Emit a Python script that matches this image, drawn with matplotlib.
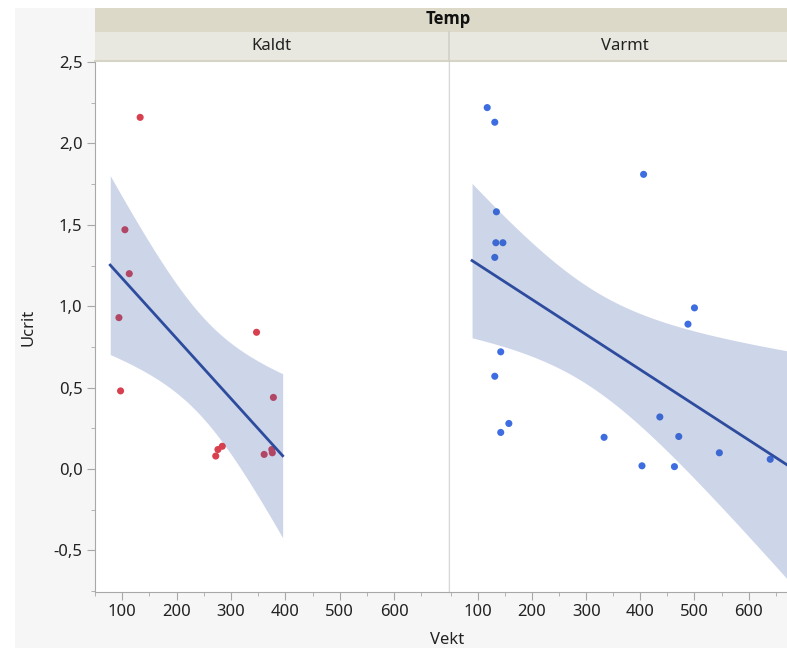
import numpy as np
import matplotlib
matplotlib.use("Agg")
import matplotlib.pyplot as plt
from matplotlib.patches import Rectangle
from matplotlib.ticker import FuncFormatter, MultipleLocator

plt.rcParams['font.family'] = ['Noto Sans', 'DejaVu Sans']

# data
kaldt_vekt = [133, 105, 113, 94, 97, 347, 378, 284, 276, 272, 361, 375, 376]
kaldt_ucrit = [2.16, 1.47, 1.20, 0.93, 0.48, 0.84, 0.44, 0.14, 0.12, 0.08, 0.09, 0.12, 0.10]
varmt_vekt = [117, 131, 406, 134, 133, 146, 131, 500, 488, 142, 131, 157, 142, 333,
              436, 471, 403, 463, 546, 640]
varmt_ucrit = [2.22, 2.13, 1.81, 1.58, 1.39, 1.39, 1.30, 0.99, 0.89, 0.72, 0.57, 0.28,
               0.225, 0.195, 0.32, 0.20, 0.02, 0.015, 0.10, 0.06]
fit_range = {"Kaldt": (78, 395), "Varmt": (89, 690)}
panels = ["Kaldt", "Varmt"]
y_ticks = [-0.5, 0.0, 0.5, 1.0, 1.5, 2.0, 2.5]
x_ticks = [100, 200, 300, 400, 500, 600]

W, H = 787, 648
FS = 12
fig = plt.figure(figsize=(W / 100, H / 100), dpi=100)
fig.patch.set_facecolor("white")


def fx(px):
    return px / W


def fy(py):
    return 1 - py / H


# gray frame behind everything
fig.patches.append(Rectangle((fx(15), 0), 1 - fx(15), fy(8), transform=fig.transFigure,
                             facecolor="#f6f6f6", edgecolor="none", zorder=-5))


def t975(df):
    z = 1.959964
    return z + (z**3 + z) / (4 * df) + (5 * z**5 + 16 * z**3 + 3 * z) / (96 * df**2)


def fit_band(x, y, lo, hi):
    x = np.asarray(x, float)
    y = np.asarray(y, float)
    n = len(x)
    b, a = np.polyfit(x, y, 1)
    res = y - (a + b * x)
    s = np.sqrt(np.sum(res**2) / (n - 2))
    sxx = np.sum((x - x.mean())**2)
    xs = np.linspace(lo, hi, 200)
    yh = a + b * xs
    se = s * np.sqrt(1 / n + (xs - x.mean())**2 / sxx)
    t = t975(n - 2)
    return xs, yh, yh - t * se, yh + t * se


ax1 = fig.add_axes([fx(95), fy(592), fx(448) - fx(95), fy(62) - fy(592)])
ax2 = fig.add_axes([fx(449), fy(592), fx(787) - fx(449), fy(62) - fy(592)], sharey=ax1)

data = {"Kaldt": (kaldt_vekt, kaldt_ucrit, "#d9404f"),
        "Varmt": (varmt_vekt, varmt_ucrit, "#3d6de0")}
xlims = {"Kaldt": (50, 699), "Varmt": (46.4, 671)}

for ax, name in zip([ax1, ax2], panels):
    vx, vy, col = data[name]
    ax.scatter(vx, vy, s=26, color=col, edgecolors="none", zorder=2)
    xs, yh, lo, hi = fit_band(vx, vy, *fit_range[name])
    ax.fill_between(xs, lo, hi, color="#3a5aa8", alpha=0.25, linewidth=0, zorder=3)
    ax.plot(xs, yh, color="#2e4c9e", lw=2, zorder=4)
    ax.set_xlim(*xlims[name])
    ax.set_ylim(-0.755, 2.5)
    ax.set_xticks(x_ticks)
    ax.xaxis.set_minor_locator(MultipleLocator(50))
    ax.set_facecolor("white")
    for sp in ["top", "right"]:
        ax.spines[sp].set_visible(False)
    ax.spines["bottom"].set_color("#a8a8a8")
    ax.tick_params(axis="x", which="major", length=6, color="#a8a8a8", labelsize=FS,
                   labelcolor="#222222", pad=3)
    ax.tick_params(axis="x", which="minor", length=3, color="#a8a8a8")

ax1.set_yticks(y_ticks)
ax1.yaxis.set_minor_locator(MultipleLocator(0.25))
ax1.yaxis.set_major_formatter(FuncFormatter(lambda v, p: f"{v:.1f}".replace(".", ",")))
ax1.spines["left"].set_color("#a8a8a8")
ax1.tick_params(axis="y", which="major", length=6, color="#a8a8a8", labelsize=FS,
                labelcolor="#222222", pad=3)
ax1.tick_params(axis="y", which="minor", length=3, color="#a8a8a8")

ax2.spines["left"].set_color("#d8d8d8")
ax2.tick_params(axis="y", which="both", left=False, labelleft=False)

# header strips
fig.patches.append(Rectangle((fx(95), fy(32)), 1 - fx(95), fy(8) - fy(32),
                             transform=fig.transFigure, facecolor="#dcd9c8",
                             edgecolor="none", zorder=1))
fig.patches.append(Rectangle((fx(95), fy(61)), 1 - fx(95), fy(32) - fy(61),
                             transform=fig.transFigure, facecolor="#e8e8e0",
                             edgecolor="none", zorder=1))
fig.lines.append(plt.Line2D([fx(95), 1], [fy(61), fy(61)], transform=fig.transFigure,
                            color="#d6d4c4", lw=1.5, zorder=2))
fig.lines.append(plt.Line2D([fx(448.5), fx(448.5)], [fy(61), fy(32)],
                            transform=fig.transFigure, color="#d0d0c8", lw=1.2, zorder=2))
fig.text(fx(448), fy(19), "Temp", ha="center", va="center", fontsize=FS,
         fontweight="bold", family=["Open Sans", "DejaVu Sans"], color="#111111")
fig.text(fx(271), fy(46), "Kaldt", ha="center", va="center", fontsize=FS, color="#222222")
fig.text(fx(625), fy(46), "Varmt", ha="center", va="center", fontsize=FS, color="#222222")

fig.text(fx(28), fy(327), "Ucrit", ha="center", va="center", rotation=90, fontsize=FS,
         color="#222222")
fig.text(fx(447), fy(640), "Vekt", ha="center", va="center", fontsize=FS, color="#222222")

fig.savefig("out.png", dpi=100)
